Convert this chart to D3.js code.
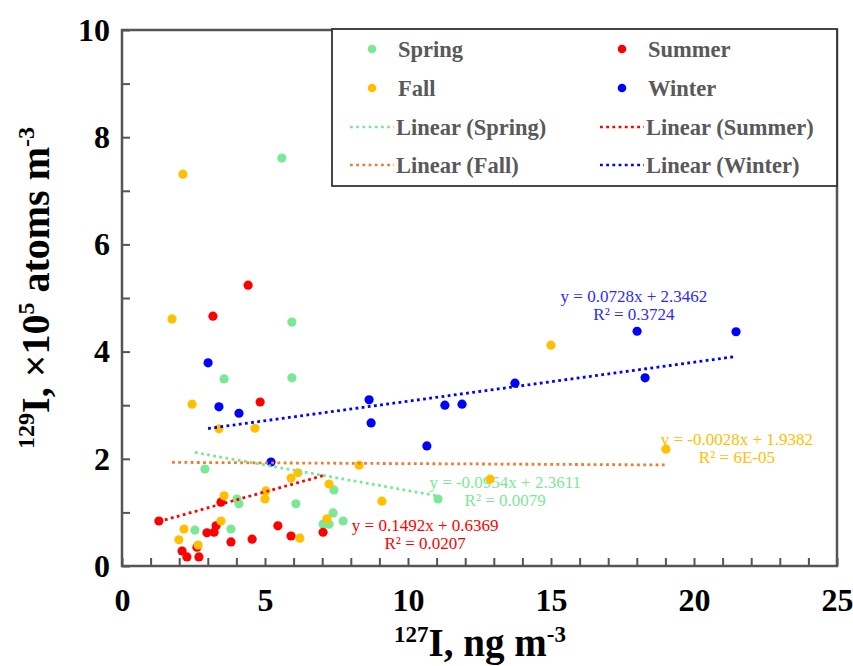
<!DOCTYPE html>
<html>
<head>
<meta charset="utf-8">
<script src="https://cdn.jsdelivr.net/npm/d3@7"></script>
<style>
  body { margin: 0; background: #fff; }
  svg text { font-family: "Liberation Serif", "Times New Roman", serif; }
</style>
</head>
<body>
<div id="chart"></div>
<script>
// --- Data ---
const seasons = ["Spring", "Summer", "Fall", "Winter"];

const springX = [5.59, 5.94, 5.94, 3.57, 2.90, 4.02, 4.09, 6.08, 7.41, 7.38, 7.73, 7.03, 7.24, 2.55, 3.81, 11.05];
const springY = [7.61, 4.55, 3.51, 3.49, 1.81, 1.25, 1.16, 1.16, 1.42, 0.99, 0.84, 0.78, 0.78, 0.67, 0.69, 1.25];

const summerX = [4.41, 3.18, 4.83, 3.46, 1.29, 3.29, 3.22, 2.97, 3.81, 4.55, 5.45, 5.91, 7.03, 2.62, 2.10, 2.27, 2.69];
const summerY = [5.24, 4.66, 3.06, 1.19, 0.84, 0.75, 0.63, 0.62, 0.45, 0.50, 0.75, 0.56, 0.63, 0.35, 0.28, 0.17, 0.17];

const fallX = [2.13, 1.75, 2.45, 3.39, 4.65, 5.91, 6.15, 7.24, 3.57, 5.03, 5.00, 3.46, 2.17, 1.99, 2.66, 7.17, 6.22, 8.29, 9.09, 12.87, 15.00, 19.02];
const fallY = [7.31, 4.61, 3.02, 2.56, 2.57, 1.64, 1.74, 1.53, 1.31, 1.40, 1.25, 0.84, 0.69, 0.49, 0.39, 0.88, 0.52, 1.88, 1.21, 1.62, 4.12, 2.18];

const winterX = [3.01, 3.39, 4.09, 5.21, 8.64, 8.71, 10.66, 11.29, 11.89, 13.74, 18.01, 18.29, 21.47];
const winterY = [3.79, 2.97, 2.85, 1.94, 3.10, 2.67, 2.24, 3.00, 3.02, 3.41, 4.38, 3.51, 4.37];

// linear fits as printed on the chart
const slopes = [-0.0954, 0.1492, -0.0028, 0.0728];
const intercepts = [2.3611, 0.6369, 1.9382, 2.3462];
const eqLabels = ["y = -0.0954x + 2.3611", "y = 0.1492x + 0.6369", "y = -0.0028x + 1.9382", "y = 0.0728x + 2.3462"];
const r2Labels = ["R² = 0.0079", "R² = 0.0207", "R² = 6E-05", "R² = 0.3724"];

const xTicks = d3.range(0, 26);
const yTicks = d3.range(0, 11);

// --- Styles / layout ---
const pointColors = ["#7be897", "#ff0000", "#ffc000", "#0000ff"];
const lineColors = ["#7be897", "#ff0000", "#ed7d31", "#0000ff"];
const labelColors = ["#7be897", "#ff0000", "#ffc000", "#2b2bff"];
// equation label anchor (data units: centre x, baseline y of first line)
const labelAt = [[13.4, 1.46], [10.6, 0.65], [21.5, 2.26], [17.9, 4.93]];

const W = 853, H = 666;
const plot = { left: 122, right: 837, top: 30, bottom: 566 };

const svg = d3.select("#chart").append("svg")
  .attr("width", W).attr("height", H);

// --- Scales ---
const x = d3.scaleLinear().domain([0, 25]).range([plot.left, plot.right]);
const y = d3.scaleLinear().domain([0, 10]).range([plot.bottom, plot.top]);

// --- Axes ---
const xAxis = svg.append("g")
  .attr("transform", `translate(0,${plot.bottom})`)
  .call(d3.axisBottom(x).tickValues(xTicks).tickSize(-8).tickSizeOuter(0).tickPadding(22)
    .tickFormat(d => d % 5 === 0 ? d : ""));

const yAxis = svg.append("g")
  .attr("transform", `translate(${plot.left},0)`)
  .call(d3.axisLeft(y).tickValues(yTicks).tickSize(-8).tickSizeOuter(0).tickPadding(12)
    .tickFormat(d => d % 2 === 0 ? d : ""));

[xAxis, yAxis].forEach(g => {
  g.select(".domain").remove();
  g.selectAll(".tick line").attr("stroke", "#555").attr("stroke-width", 2);
  g.selectAll(".tick text")
    .attr("fill", "#000")
    .style("font-size", "32px")
    .style("font-weight", "bold")
    .style("font-family", "'Liberation Serif', serif");
});

// plot frame
svg.append("rect")
  .attr("x", plot.left).attr("y", plot.top)
  .attr("width", plot.right - plot.left).attr("height", plot.bottom - plot.top)
  .attr("fill", "none").attr("stroke", "#555").attr("stroke-width", 2.5);

// --- Axis titles ---
const xTitle = svg.append("text")
  .attr("x", 480).attr("y", 656)
  .attr("text-anchor", "middle")
  .style("font-size", "39px").style("font-weight", "bold");
xTitle.append("tspan").attr("font-size", "23px").attr("dy", -14).text("127");
xTitle.append("tspan").attr("dy", 14).text("I, ng m");
xTitle.append("tspan").attr("font-size", "23px").attr("dy", -14).text("-3");

const yTitle = svg.append("text")
  .attr("transform", `translate(49,288) rotate(-90)`)
  .attr("text-anchor", "middle")
  .style("font-size", "40px").style("font-weight", "bold");
yTitle.append("tspan").attr("font-size", "24px").attr("dy", -15).text("129");
yTitle.append("tspan").attr("dy", 15).text("I, ×10");
yTitle.append("tspan").attr("font-size", "24px").attr("dy", -15).text("5");
yTitle.append("tspan").attr("dy", 15).text(" atoms m");
yTitle.append("tspan").attr("font-size", "24px").attr("dy", -15).text("-3");

// --- Series ---
const seriesX = [springX, summerX, fallX, winterX];
const seriesY = [springY, summerY, fallY, winterY];
const series = seasons.map((s, i) => ({
  name: s,
  pts: seriesX[i].map((v, j) => ({ x: v, y: seriesY[i][j] })),
  slope: slopes[i], intercept: intercepts[i]
}));

// fit labels
series.forEach((s, i) => {
  const t = svg.append("text")
    .attr("x", x(labelAt[i][0])).attr("y", y(labelAt[i][1]))
    .attr("text-anchor", "middle")
    .attr("fill", labelColors[i])
    .style("font-size", "17px");
  t.append("tspan").attr("x", x(labelAt[i][0])).text(eqLabels[i]);
  t.append("tspan").attr("x", x(labelAt[i][0])).attr("dy", 18).text(r2Labels[i]);
});

// points
series.forEach((s, i) => {
  svg.append("g").selectAll("circle")
    .data(s.pts)
    .enter()
    .append("circle")
    .attr("cx", d => x(d.x))
    .attr("cy", d => y(d.y))
    .attr("r", 4.6)
    .attr("fill", pointColors[i]);
});

// trend lines across each series' x range
const line = d3.line().x(d => x(d[0])).y(d => y(d[1]));
series.forEach((s, i) => {
  const ext = d3.extent(s.pts, d => d.x);
  svg.append("path")
    .attr("d", line(ext.map(v => [v, s.slope * v + s.intercept])))
    .attr("fill", "none")
    .attr("stroke", lineColors[i])
    .attr("stroke-width", 2.8)
    .attr("stroke-dasharray", "2.8,3.4");
});

// --- Legend ---
const legendBox = { x: 332, y: 29, w: 505, h: 157 };
svg.append("rect")
  .attr("x", legendBox.x).attr("y", legendBox.y)
  .attr("width", legendBox.w).attr("height", legendBox.h)
  .attr("fill", "#fff").attr("stroke", "#333").attr("stroke-width", 1.8);

const colX = [350, 600];
const rowY = [49, 88, 127, 165];
const legendItems = [
  ...seasons.map((s, i) => ({ label: s, type: "point", i })),
  ...seasons.map((s, i) => ({ label: `Linear (${s})`, type: "line", i }))
];
legendItems.forEach((d, k) => {
  const cx = colX[k % 2], cy = rowY[Math.floor(k / 2)];
  const g = svg.append("g").attr("transform", `translate(${cx},${cy})`);
  if (d.type === "point") {
    g.append("circle").attr("cx", 22).attr("cy", 0).attr("r", 4.3).attr("fill", pointColors[d.i]);
  } else {
    g.append("line").attr("x1", 0).attr("x2", 44).attr("y1", 0).attr("y2", 0)
      .attr("stroke", lineColors[d.i]).attr("stroke-width", 2.4)
      .attr("stroke-dasharray", "2.8,3.4");
  }
  g.append("text")
    .attr("x", d.type === "point" ? 48 : 46)
    .attr("y", 7.5)
    .attr("fill", "#595959")
    .style("font-size", "22.5px").style("font-weight", "bold")
    .text(d.label);
});
</script>
</body>
</html>
